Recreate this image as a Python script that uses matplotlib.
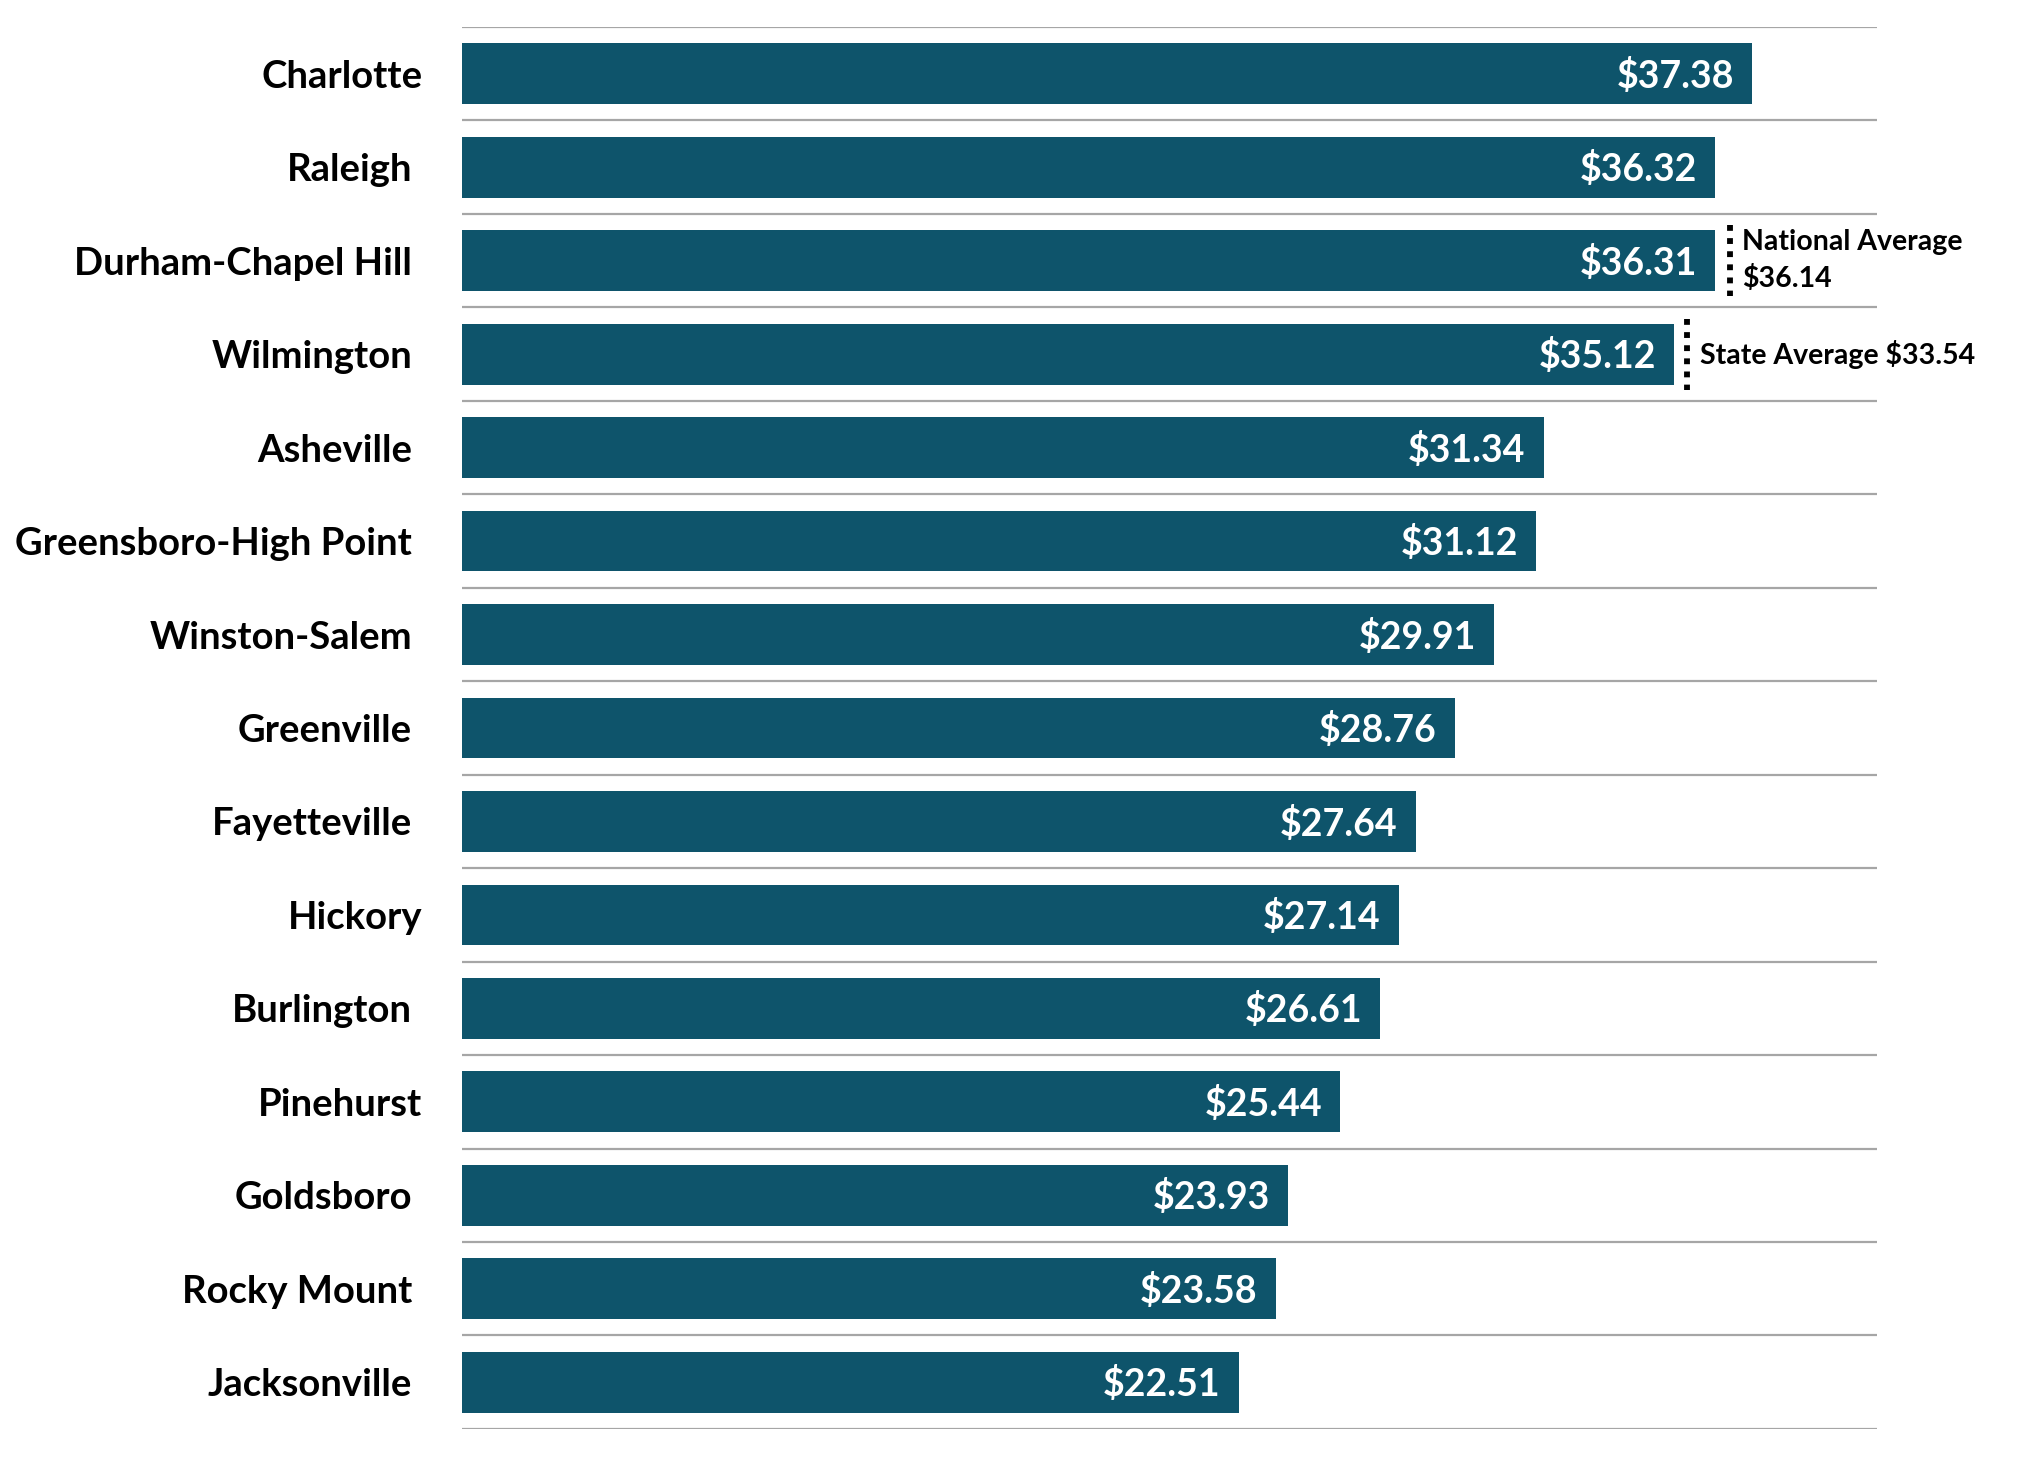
import numpy as np
import matplotlib.pyplot as plt
import matplotlib.transforms as mtransforms

plt.rcParams['font.family'] = ['Lato', 'DejaVu Sans']

# Data: average hourly wage by metro area
cities = ["Charlotte", "Raleigh", "Durham-Chapel Hill", "Wilmington", "Asheville",
          "Greensboro-High Point", "Winston-Salem", "Greenville", "Fayetteville",
          "Hickory", "Burlington", "Pinehurst", "Goldsboro", "Rocky Mount", "Jacksonville"]
wages = [37.38, 36.32, 36.31, 35.12, 31.34, 31.12, 29.91, 28.76, 27.64,
         27.14, 26.61, 25.44, 23.93, 23.58, 22.51]

national_avg = 36.14
state_avg = 33.54
national_row = "Durham-Chapel Hill"
state_row = "Wilmington"

bar_color = "#0E546B"
grid_color = "#A6A6A6"

fig = plt.figure(figsize=(20.23, 14.68), dpi=100)
ax = fig.add_axes([0.2284, 0.0266, 0.9278 - 0.2284, 0.9816 - 0.0266])

y = np.arange(len(cities))
ax.barh(y, wages, height=0.65, color=bar_color, zorder=2)

ax.set_xlim(0, 41)
ax.set_ylim(len(cities) - 0.5, -0.5)

# separator lines between rows
for b in np.arange(-0.5, len(cities), 1.0):
    ax.axhline(b, color=grid_color, lw=1.6, zorder=1)

# value labels inside bars
for yi, w in zip(y, wages):
    ax.annotate(f"${w:.2f}", xy=(w, yi), xytext=(-13, -1.5), textcoords="offset points",
                ha="right", va="center", color="white", fontsize=27, fontweight="bold")

# city labels
ax.set_yticks(y)
ax.set_yticklabels(cities, fontsize=27.5, fontweight="bold")
ax.tick_params(axis="y", length=0, pad=36)
ax.tick_params(axis="x", bottom=False, labelbottom=False)
# a few labels in the original sit a little further right
for lbl in ax.get_yticklabels():
    if lbl.get_text() in ("Charlotte", "Hickory", "Pinehurst"):
        lbl.set_transform(lbl.get_transform() + mtransforms.ScaledTranslation(7.5 / 72, 0, fig.dpi_scale_trans))

for s in ax.spines.values():
    s.set_visible(False)

# average markers next to the bars
def avg_marker(row, label, dx):
    i = cities.index(row)
    x = wages[i] + dx
    ax.plot([x, x], [i - 0.38, i + 0.38], color="black", lw=4.2,
            linestyle=(0, (1.0, 1.25)), dash_capstyle="butt", zorder=3)
    ax.annotate(label, xy=(x, i), xytext=(9, 0), textcoords="offset points",
                ha="left", va="center", fontsize=20.5, fontweight="bold", linespacing=1.45)

avg_marker(national_row, f"National Average\n${national_avg:.2f}", 0.42)
avg_marker(state_row, f"State Average ${state_avg:.2f}", 0.39)

fig.savefig("out.png", dpi=100)
